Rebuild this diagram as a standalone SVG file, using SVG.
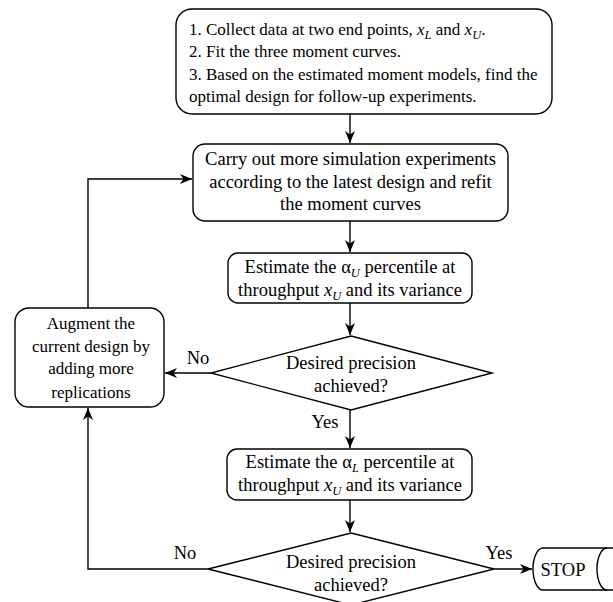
<svg xmlns="http://www.w3.org/2000/svg" width="613" height="602" viewBox="0 0 613 602">
<style>
.s{fill:#fff;stroke:#000;stroke-width:1.4}
text{font-family:'Liberation Serif','Times New Roman',serif;fill:#000}
.t{font-size:17px}
.b{font-size:18.5px}
.c{text-anchor:middle}
.i{font-style:italic}
.sub{font-size:12.5px;font-style:italic}
.e{fill:none;stroke:#000;stroke-width:1.4}
</style>
<defs>
<marker id="arr" viewBox="0 0 12 10" markerWidth="12" markerHeight="10" refX="12" refY="5" orient="auto" markerUnits="userSpaceOnUse">
<path d="M0,0 L12,5 L0,10 L3.5,5 z" fill="#000"/>
</marker>
</defs>
<rect width="613" height="602" fill="#fff"/>
<g id="connectors">
<line class="e" x1="350" y1="114" x2="350" y2="143" marker-end="url(#arr)"/>
<line class="e" x1="350" y1="221" x2="350" y2="252" marker-end="url(#arr)"/>
<line class="e" x1="350" y1="303" x2="350" y2="335" marker-end="url(#arr)"/>
<line class="e" x1="211" y1="373" x2="165" y2="373" marker-end="url(#arr)"/>
<polyline class="e" points="88,308 88,179 192,179" marker-end="url(#arr)"/>
<line class="e" x1="350" y1="410" x2="350" y2="448" marker-end="url(#arr)"/>
<line class="e" x1="350" y1="500" x2="350" y2="532" marker-end="url(#arr)"/>
<polyline class="e" points="208,569 88,569 88,408" marker-end="url(#arr)"/>
<line class="e" x1="494" y1="569" x2="532" y2="569" marker-end="url(#arr)"/>
<text class="b c" x="198" y="364">No</text>
<text class="b c" x="325" y="428">Yes</text>
<text class="b c" x="185" y="559">No</text>
<text class="b c" x="499" y="559">Yes</text>
</g>
<g id="n1">
<rect class="s" x="176" y="9" width="376" height="105" rx="16"/>
<text class="t" x="189" y="35">1. Collect data at two end points, <tspan class="i">x</tspan><tspan class="sub" dy="4">L</tspan><tspan dy="-4"> and </tspan><tspan class="i">x</tspan><tspan class="sub" dy="4">U</tspan><tspan dy="-4">.</tspan></text>
<text class="t" x="189" y="57">2. Fit the three moment curves.</text>
<text class="t" x="189" y="80">3. Based on the estimated moment models, find the</text>
<text class="t" x="189" y="102">optimal design for follow-up experiments.</text>
</g>
<g id="n2">
<rect class="s" x="193" y="144" width="315" height="77" rx="12"/>
<text class="b c" x="350.5" y="165">Carry out more simulation experiments</text>
<text class="b c" x="350.5" y="188">according to the latest design and refit</text>
<text class="b c" x="350.5" y="210">the moment curves</text>
</g>
<g id="n3">
<rect class="s" x="228" y="253" width="244" height="50" rx="10"/>
<text class="b c" x="350" y="273">Estimate the α<tspan class="sub" dy="4">U</tspan><tspan dy="-4"> percentile at</tspan></text>
<text class="b c" x="350" y="296">throughput <tspan class="i">x</tspan><tspan class="sub" dy="4">U</tspan><tspan dy="-4"> and its variance</tspan></text>
</g>
<g id="n4">
<polygon class="s" points="351,336 492,373 351,410 211,373"/>
<text class="b c" x="351" y="369">Desired precision</text>
<text class="b c" x="351" y="392">achieved?</text>
</g>
<g id="n5">
<rect class="s" x="15" y="308" width="149" height="99" rx="14"/>
<text class="t c" x="91" y="329">Augment the</text>
<text class="t c" x="91" y="352">current design by</text>
<text class="t c" x="91" y="374">adding more</text>
<text class="t c" x="91" y="398">replications</text>
</g>
<g id="n6">
<rect class="s" x="227" y="449" width="245" height="51" rx="10"/>
<text class="b c" x="350" y="468">Estimate the α<tspan class="sub" dy="4">L</tspan><tspan dy="-4"> percentile at</tspan></text>
<text class="b c" x="350" y="491">throughput <tspan class="i">x</tspan><tspan class="sub" dy="4">U</tspan><tspan dy="-4"> and its variance</tspan></text>
</g>
<g id="n7">
<polygon class="s" points="351,533 494,569 351,605 208,569"/>
<text class="b c" x="351" y="568">Desired precision</text>
<text class="b c" x="351" y="591">achieved?</text>
</g>
<g id="n8">
<path class="s" d="M614,548 L543,548 A10 21 0 0 0 543 590 L614,590"/>
<path class="e" d="M607,548 A10 21 0 0 0 607 590"/>
<text class="b c" x="563" y="576">STOP</text>
</g>
</svg>
